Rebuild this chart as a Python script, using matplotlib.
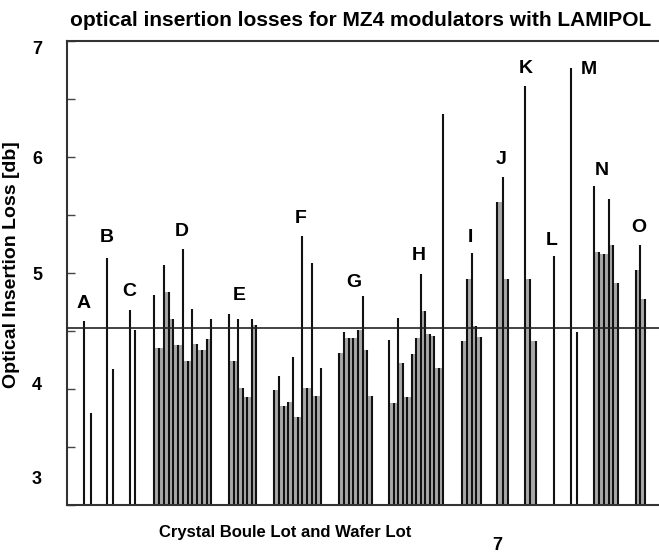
import matplotlib
matplotlib.use('Agg')
import matplotlib.pyplot as plt
from matplotlib.transforms import ScaledTranslation

plt.rcParams['font.family'] = ['Liberation Sans', 'DejaVu Sans']

# lot letters and optical insertion loss (dB) of each wafer in the lot
lots = ['A', 'B', 'C', 'D', 'E', 'F', 'G', 'H', 'I', 'J', 'K', 'L', 'M', 'N', 'O']
losses = [
    [4.59, 3.79],
    [5.13, 4.17],
    [4.68, 4.51],
    [4.81, 4.35, 5.07, 4.84, 4.60, 4.38, 5.21, 4.24, 4.69, 4.39, 4.34, 4.43, 4.60],
    [4.65, 4.24, 4.60, 4.01, 3.93, 4.60, 4.55],
    [3.99, 4.11, 3.85, 3.89, 4.28, 3.76, 5.32, 4.01, 5.09, 3.94, 4.18],
    [4.31, 4.49, 4.44, 4.44, 4.51, 4.80, 4.34, 3.94],
    [4.42, 3.88, 4.61, 4.22, 3.93, 4.30, 4.44, 4.99, 4.67, 4.47, 4.46, 4.18, 6.37],
    [4.41, 4.95, 5.17, 4.54, 4.45],
    [5.61, 5.83, 4.95],
    [6.61, 4.95, 4.41],
    [5.15],
    [6.77, 4.49],
    [5.75, 5.18, 5.16, 5.64, 5.24, 4.91],
    [5.03, 5.24, 4.78],
]
limit = 4.53

# layout: where each lot starts on the x axis and the spacing of its wafers
lot_start = [3.7, 8.6, 13.6, 18.7, 34.75, 44.4, 58.3, 69.0, 84.7, 92.2, 98.1, 104.3, 107.9, 112.9, 121.8]
lot_step = [1.43, 1.15, 1.0, 1.02, 0.96, 1.0, 1.0, 0.97, 0.99, 1.1, 1.15, 1.0, 1.3, 1.03, 1.0]
label_pos = [(3.6, 4.74), (8.6, 5.31), (13.3, 4.84), (24.6, 5.36), (37.0, 4.81), (50.1, 5.47),
             (61.5, 4.92), (75.4, 5.15), (86.5, 5.31), (92.9, 5.98), (98.3, 6.76), (103.9, 5.28),
             (111.8, 6.75), (114.5, 5.88), (122.5, 5.39)]

fig = plt.figure(figsize=(6.59, 5.55), dpi=100)
ax = fig.add_axes([67 / 659, 50 / 555, 592 / 659, 464 / 555])

for vals, x0, dx in zip(losses, lot_start, lot_step):
    xs = [x0 + i * dx for i in range(len(vals))]
    # grey shading between neighbouring wafers in the bigger lots
    if len(vals) >= 3:
        mids = [(xs[i] + xs[i + 1]) / 2 for i in range(len(xs) - 1)]
        hts = [min(vals[i], vals[i + 1]) - 3 for i in range(len(vals) - 1)]
        ax.bar(mids, hts, width=dx, bottom=3, color='#a8a8a8', linewidth=0, zorder=1)
    ax.vlines(xs, 3, vals, color='#111111', linewidth=1.5, zorder=2)

for name, (lx, ly) in zip(lots, label_pos):
    ax.text(lx, ly, name, ha='center', va='center', fontsize=14, fontweight='bold')

ax.axhline(limit, color='#222222', linewidth=1.2, zorder=3)

ax.set_xlim(0, 126.8)
ax.set_ylim(3, 7)
ax.set_xticks([])
ax.set_yticks([3, 4, 5, 6, 7])
ax.set_yticks([3.5, 4.5, 5.5, 6.5], minor=True)
ax.tick_params(axis='y', which='both', direction='in', length=6, width=1, pad=18,
               labelsize=13, color='#444444')
for lab in ax.get_yticklabels():
    lab.set_fontweight('bold')
ax.spines['right'].set_visible(False)
for s in ['left', 'top', 'bottom']:
    ax.spines[s].set_linewidth(1.5)
    ax.spines[s].set_color('#333333')

# nudge the printed numbers like the scanned original
shifts = {3: 27, 4: 6, 7: -7}
for lab, val in zip(ax.get_yticklabels(), [3, 4, 5, 6, 7]):
    dy = shifts.get(val, 0)
    lab.set_transform(lab.get_transform() + ScaledTranslation(0, dy / 100, fig.dpi_scale_trans))

ax.set_ylabel('Optical Insertion Loss [db]', fontsize=14, fontweight='bold')
ax.yaxis.set_label_coords(-0.08, 0.517)

fig.text(361 / 659, 1 - 21 / 555, 'optical insertion losses for MZ4 modulators with LAMIPOL',
         ha='center', va='center', fontsize=15, fontweight='bold')
fig.text(285 / 659, 1 - 533 / 555, 'Crystal Boule Lot and Wafer Lot',
         ha='center', va='center', fontsize=12, fontweight='bold')
fig.text(497 / 659, 1 - 537 / 555, '7', ha='center', va='top', fontsize=13, fontweight='bold')

fig.savefig('out.png', dpi=100)
